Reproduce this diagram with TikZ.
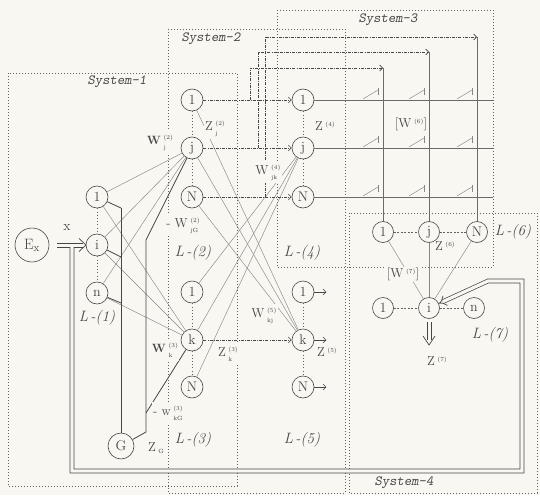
\documentclass[tikz,border=0pt]{standalone}
\usetikzlibrary{arrows.meta}
\definecolor{bg}{RGB}{249,247,241}
\definecolor{ink}{RGB}{70,70,70}
\definecolor{lite}{RGB}{135,135,135}
\newcommand{\wsupsub}[2]{\hspace{2.5pt}\raisebox{0.5pt}{\fontsize{6}{10}\selectfont\begin{tabular}[c]{@{}l@{}}#1\\#2\end{tabular}}}
\newcommand{\wsupo}[1]{\hspace{2.5pt}\raisebox{4pt}{\fontsize{6}{7}\selectfont #1}}
\begin{document}
\begin{tikzpicture}[x=1pt,y=-1pt,
  neuron/.style={circle,draw=ink,line width=0.6pt,minimum size=22pt,inner sep=0pt,fill=bg,text=ink,font=\fontsize{14}{14}\selectfont},
  sysbox/.style={draw=ink!85,line width=0.6pt,dash pattern=on 0.8pt off 2.2pt},
  nodedots/.style={draw=ink!85,line width=0.7pt,dash pattern=on 0.8pt off 2.4pt},
  hdash/.style={draw=ink!85,line width=0.6pt,dash pattern=on 2pt off 1.5pt},
  link/.style={draw=lite,line width=0.45pt},
  bus/.style={draw=ink,line width=0.8pt},
  ddot/.style={draw=ink,line width=0.6pt,dash pattern=on 3pt off 1.2pt on 0.8pt off 1.2pt},
  arr/.style={-{Straight Barb[length=3pt,width=6pt]}},
  dbl/.style={draw=ink,line width=0.7pt,double=bg,double distance=3.2pt},
  hol/.style={draw=ink,line width=0.7pt},
  lbl/.style={inner sep=1pt,fill=bg,text=ink,font=\fontsize{13}{13}\selectfont},
  lay/.style={text=ink,font=\fontsize{15}{15}\selectfont\itshape},
  sys/.style={text=ink,font=\fontsize{14}{14}\selectfont\ttfamily\slshape},
]
\path[fill=bg] (0,0) rectangle (540,495);
% system boxes
\draw[sysbox] (8,73) rectangle (237,486);
\draw[sysbox] (168,29) rectangle (345,493);
\draw[sysbox] (277,10) rectangle (493,267);
\draw[sysbox] (349,213) rectangle (537,493);
\node[sys] at (117,82) {System-1};
\node[sys] at (211,39) {System-2};
\node[sys] at (388,20) {System-3};
\node[sys] at (404,483) {System-4};
% nodes
\node[neuron,minimum size=34pt,font=\fontsize{15}{15}\selectfont] (Ex) at (32,245) {E$_{\mathrm{x}}$};
\node[neuron] (a1) at (97,197) {1};
\node[neuron] (ai) at (97,245) {i};
\node[neuron] (an) at (97,293) {n};
\node[neuron,minimum size=26pt] (G) at (121,446) {G};
\node[neuron] (b1) at (192,100) {1};
\node[neuron] (bj) at (192,148) {j};
\node[neuron] (bN) at (192,197) {N};
\node[neuron] (c1) at (192,292) {1};
\node[neuron] (ck) at (192,340) {k};
\node[neuron] (cN) at (192,387) {N};
\node[neuron] (d1) at (303,100) {1};
\node[neuron] (dj) at (303,148) {j};
\node[neuron] (dN) at (303,197) {N};
\node[neuron] (e1) at (303,292) {1};
\node[neuron] (ek) at (303,340) {k};
\node[neuron] (eN) at (303,387) {N};
\node[neuron,minimum size=21pt] (f1) at (383,232) {1};
\node[neuron,minimum size=21pt] (fj) at (429,232) {j};
\node[neuron,minimum size=21pt] (fN) at (477,232) {N};
\node[neuron,minimum size=21pt] (g1) at (383,308) {1};
\node[neuron,minimum size=21pt] (gi) at (429,308) {i};
\node[neuron,minimum size=21pt] (gn) at (474,308) {n};
% dotted layer links
\draw[nodedots] (a1) -- (ai) -- (an);
\draw[nodedots] (b1) -- (bj) -- (bN);
\draw[nodedots] (c1) -- (ck) -- (cN);
\draw[nodedots] (d1) -- (dj) -- (dN);
\draw[nodedots] (e1) -- (ek) -- (eN);
\draw[hdash] (f1) -- (fj) -- (fN);
\draw[hdash] (g1) -- (gi) -- (gn);
% layer 1 -> 2,3
\foreach \s in {a1,ai,an} { \draw[link] (\s) -- (bj); \draw[link] (\s) -- (ck); }
% G bus
\coordinate (q1) at (121,208);
\coordinate (q2) at (121,257);
\coordinate (q3) at (121,303);
\draw[bus] (a1) -- (q1);
\draw[bus] (ai) -- (q2);
\draw[bus] (an) -- (q3);
\draw[bus] (q1) -- (G);
\coordinate (gz) at (146,432);
\coordinate (gt) at (146,240);
\coordinate (gk) at (146,413);
\draw[bus] (G) -- (gz) -- (gt) -- (bj);
\draw[bus] (gk) -- (ck);
% layer 2,3 -> 4,5
\foreach \s in {b1,bj,bN} { \draw[link] (\s) -- (ek); }
\foreach \s in {c1,ck,cN} { \draw[link] (\s) -- (dj); }
\draw[ddot,arr] (b1) -- (d1);
\draw[ddot,arr] (bj) -- (dj);
\draw[ddot,arr] (bN) -- (dN);
\draw[ddot,arr] (ck) -- (ek);
\coordinate (t1) at (383,68);
\coordinate (tj) at (429,52);
\coordinate (tN) at (477,37);
\coordinate (s1) at (250,100);
\coordinate (sj) at (258,148);
\coordinate (sN) at (265,197);
\draw[ddot,arr] (s1) |- (t1);
\draw[ddot,arr] (sj) |- (tj);
\draw[ddot,arr] (sN) |- (tN);
% system-3 grid
\draw[link,draw=ink!80] (t1) -- (f1);
\draw[link,draw=ink!80] (tj) -- (fj);
\draw[link,draw=ink!80] (tN) -- (fN);
\coordinate (h1) at (493,100);
\coordinate (hj) at (493,148);
\coordinate (hN) at (493,197);
\draw[link,draw=ink!80] (d1) -- (h1);
\draw[link,draw=ink!80] (dj) -- (hj);
\draw[link,draw=ink!80] (dN) -- (hN);
\foreach \x in {383,429,477} \foreach \y in {100,148,197} {
  \draw[link] (\x-20,\y-1) -- (\x-5,\y-10);
  \draw[link] (\x-5,\y-12) -- (\x-5,\y-5);
}
% layer 5 outputs
\draw[link,arr,draw=ink] (e1.east) -- ++(12,0);
\draw[link,arr,draw=ink] (ek.east) -- ++(12,0);
\draw[link,arr,draw=ink] (eN.east) -- ++(12,0);
% layer 6 -> 7
\foreach \s in {f1,fj,fN} { \draw[link] (\s) -- (gi); }
% hollow output arrow of layer 7
\draw[hol] (427.05,322) -- (427.05,340);
\draw[hol] (430.95,322) -- (430.95,340);
\draw[hol,line join=miter] (423,336) -- (429,345) -- (435,336);
% feedback loop and input arrow
\coordinate (fb0) at (72,247);
\coordinate (fb1) at (72,471);
\coordinate (fb2) at (522,471);
\coordinate (fb3) at (522,281);
\coordinate (fb4) at (488,281);
\draw[dbl,-Implies] (fb0) -- (fb1) -- (fb2) -- (fb3) -- (fb4) -- (gi);
\draw[hol] (57,243.05) -- (83,243.05);
\draw[hol] (57,246.95) -- (70.05,246.95);
\draw[hol] (73.95,246.95) -- (83,246.95);
\draw[hol,line join=miter] (79,238.5) -- (86,245) -- (79,251.5);
% labels
\node[lbl,fill=none,font=\fontsize{14}{14}\selectfont] at (67,227) {x};
\node[lbl] at (160,142) {$\mathbf{W}$\wsupsub{(2)}{j}};
\node[lbl] at (183,225) {- W\wsupsub{(2)}{jG}};
\node[lbl] at (165,350) {$\mathbf{W}$\wsupsub{(3)}{k}};
\node[lbl] at (168,413) {- w\wsupsub{(3)}{kG}};
\node[lbl] at (156,448) {Z\hspace{2.5pt}\raisebox{-2pt}{\fontsize{6}{7}\selectfont G}};
\node[lbl] at (215,128) {Z\wsupsub{(2)}{j}};
\node[lbl] at (268,172) {W\wsupsub{(4)}{jk}};
\node[lbl] at (325,126) {Z\wsupo{(4)}};
\node[lbl] at (264,315) {W\wsupsub{(5)}{kj}};
\node[lbl] at (228,354) {Z\wsupsub{(3)}{k}};
\node[lbl] at (327,352) {Z\wsupo{(5)}};
\node[lbl] at (411,124) {[W\wsupo{(6)}]};
\node[lbl] at (445,246) {Z\wsupo{(6)}};
\node[lbl] at (403,274) {[W\wsupo{(7)}]};
\node[lbl] at (437,361) {Z\wsupo{(7)}};
\node[lay] at (97,318) {L\,-(1)};
\node[lay] at (193,253) {L\,-(2)};
\node[lay] at (193,440) {L\,-(3)};
\node[lay] at (302,253) {L\,-(4)};
\node[lay] at (302,440) {L\,-(5)};
\node[lay] at (513,232) {L\,-(6)};
\node[lay] at (490,335) {L\,-(7)};
\end{tikzpicture}
\end{document}
